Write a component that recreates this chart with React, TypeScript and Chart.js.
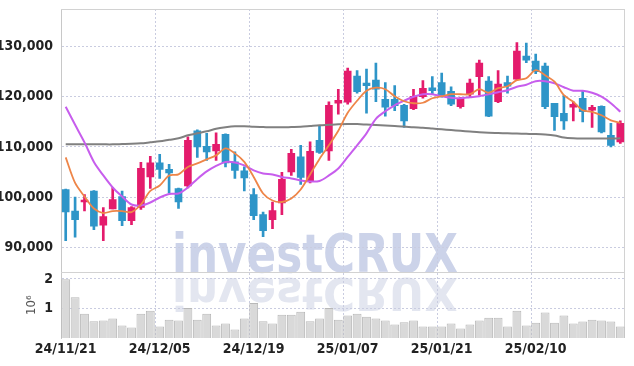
import { useEffect, useRef } from 'react';
import { Chart, registerables } from 'chart.js';

Chart.register(...registerables);

const dates = [
  '24/11/21', '24/11/22', '24/11/25', '24/11/26', '24/11/27', '24/11/28', '24/11/29', '24/12/02', '24/12/03', '24/12/04',
  '24/12/05', '24/12/06', '24/12/09', '24/12/10', '24/12/11', '24/12/12', '24/12/13', '24/12/16', '24/12/17', '24/12/18',
  '24/12/19', '24/12/20', '24/12/23', '24/12/24', '24/12/26', '24/12/27', '24/12/30', '25/01/02', '25/01/03', '25/01/06',
  '25/01/07', '25/01/08', '25/01/09', '25/01/10', '25/01/13', '25/01/14', '25/01/15', '25/01/16', '25/01/17', '25/01/20',
  '25/01/21', '25/01/22', '25/01/23', '25/01/24', '25/01/31', '25/02/03', '25/02/04', '25/02/05', '25/02/06', '25/02/07',
  '25/02/10', '25/02/11', '25/02/12', '25/02/13', '25/02/14', '25/02/17', '25/02/18', '25/02/19', '25/02/20', '25/02/21',
];

const openP = [
  101500, 97200, 99000, 101200, 94400, 97600, 100100, 95300, 97900, 104000,
  106800, 105500, 101700, 102200, 113200, 110100, 109200, 112500, 107000, 105200,
  100500, 96500, 95500, 98800, 105000, 108000, 103200, 111300, 109200, 118700,
  118900, 124100, 122700, 123300, 119500, 119500, 118300, 117600, 120000, 121800,
  122800, 121100, 118000, 120500, 124000, 123100, 119000, 122800, 123500, 128100,
  127100, 126100, 118700, 116700, 117900, 119700, 117300, 118100, 112300, 111000,
];
const highP = [
  101600, 100000, 100500, 101300, 97900, 101900, 101200, 98100, 106900, 108100,
  108500, 106500, 101800, 112000, 113400, 112700, 112800, 112600, 109000, 106000,
  101700, 97000, 99000, 104900, 109500, 110300, 111000, 114300, 119000, 121500,
  125700, 125200, 125500, 126700, 122800, 122200, 118500, 121500, 123200, 124000,
  124700, 122000, 119900, 123500, 127300, 124000, 125200, 124100, 130800, 130700,
  128500, 126700, 118700, 120300, 119000, 121200, 118300, 118200, 114700, 115200,
];
const lowP = [
  91300, 92000, 97200, 93500, 91300, 97600, 94300, 94500, 97500, 101700,
  103700, 100800, 97700, 101800, 107900, 107300, 107300, 106000, 103700, 101200,
  95500, 92100, 93700, 96500, 104300, 102500, 102800, 108700, 107300, 116500,
  118500, 120700, 116700, 119000, 116100, 117200, 113900, 117400, 119700, 120400,
  119900, 118200, 117700, 120000, 120300, 116000, 118800, 120700, 123300, 126800,
  124600, 117600, 113300, 113500, 115200, 115000, 113900, 112800, 110000, 110700,
];
const closeP = [
  97000, 95500, 99300, 94200, 96100, 99500, 95300, 97900, 105700, 106800,
  105500, 104800, 99000, 111300, 110000, 109000, 110500, 106800, 105300, 103800,
  96300, 93300, 97300, 103500, 108700, 103900, 109100, 108900, 118300, 119300,
  125100, 121000, 122200, 121500, 117900, 118200, 115200, 120100, 121700, 121200,
  120100, 118500, 119700, 122700, 126700, 116100, 122500, 122100, 129100, 127300,
  125000, 118000, 116000, 115200, 118500, 117000, 117900, 113000, 110300, 114700,
];

const ma5 = [
  107900, 102800, 100100, 97700, 96800, 97200, 97200, 97000, 98500, 101200,
  102300, 104300, 104500, 106000, 106700, 107500, 108300, 109700, 108700, 107000,
  104000, 100700, 99300, 99000, 99700, 101500, 104500, 107600, 110300, 113200,
  116800, 119200, 121200, 121800, 121500, 120100, 119100, 118700, 118800, 119700,
  120100, 120500, 120500, 120500, 121500, 120800, 121700, 122100, 123300, 123700,
  125300, 124300, 123000, 120300, 119000, 117300, 117000, 116300, 115300, 114800,
];
const ma20 = [
  118000, 114400, 110900, 107000, 104300, 101900, 100100, 98500, 98300, 98900,
  99900, 100600, 100700, 101900, 103600, 105100, 106200, 107000, 106900, 106300,
  105300, 104700, 104500, 104000, 103700, 103300, 103100, 103200, 104300, 105700,
  108000, 110300, 112700, 115600, 117100, 118300, 119200, 120000, 120500, 120500,
  120100, 119800, 119700, 119900, 120100, 120500, 120900, 121300, 122000, 122400,
  123100, 123100, 122700, 121900, 121200, 121200, 120800, 120000, 118700, 117000,
];
const ma60 = [
  110500, 110500, 110500, 110500, 110500, 110500, 110550, 110600, 110700, 110900,
  111100, 111400, 111700, 112300, 112700, 113100, 113600, 113900, 114100, 114100,
  114000, 113950, 113900, 113900, 113950, 114000, 114150, 114300, 114400, 114500,
  114550, 114550, 114450, 114350, 114250, 114150, 114050, 113900, 113800, 113650,
  113500, 113350, 113200, 113050, 112900, 112800, 112750, 112700, 112650, 112600,
  112550, 112450, 112250, 111850, 111700, 111650, 111650, 111650, 111650, 111700,
];

const volume = [
  1990000, 1380000, 820000, 570000, 590000, 660000, 420000, 360000, 820000, 920000,
  390000, 620000, 590000, 1020000, 620000, 820000, 420000, 490000, 290000, 660000,
  1190000, 570000, 490000, 790000, 790000, 890000, 570000, 660000, 1020000, 620000,
  760000, 820000, 720000, 660000, 590000, 460000, 530000, 590000, 390000, 390000,
  390000, 490000, 320000, 460000, 590000, 690000, 690000, 390000, 920000, 420000,
  520000, 860000, 520000, 760000, 490000, 560000, 620000, 590000, 560000, 390000,
];

const priceTicks = [90000, 100000, 110000, 120000, 130000];
const volumeTicks = [1000000, 2000000];
const volumeUnitLabel = '10⁶';
const watermarkText = 'investCRUX';

const UP = '#e41b6c';
const DOWN = '#2e95c8';
const FONT = '"Liberation Sans Narrow", "DejaVu Sans Condensed", sans-serif';
const GRID = '#c9cce0';

const watermarkPlugin = {
  id: 'watermark',
  beforeDraw(chart: any) {
    const ctx = chart.ctx;
    const y = chart.scales.y;
    ctx.save();
    ctx.font = `bold 54px ${FONT}`;
    ctx.textBaseline = 'alphabetic';
    ctx.textAlign = 'left';
    const w = ctx.measureText(watermarkText).width;
    const sx = 286 / w;
    const left = 172;
    const base = y.bottom;
    ctx.save();
    ctx.translate(left, base);
    ctx.scale(sx, 1);
    ctx.fillStyle = '#ccd3e9';
    ctx.fillText(watermarkText, 0, 0);
    ctx.restore();
    ctx.save();
    ctx.translate(left, base + 6);
    ctx.scale(sx, -0.82);
    ctx.fillStyle = '#e3e6f0';
    ctx.fillText(watermarkText, 0, 0);
    ctx.restore();
    ctx.restore();
  },
};

const framePlugin = {
  id: 'frame',
  beforeDatasetsDraw(chart: any) {
    const { ctx, chartArea } = chart;
    const y = chart.scales.y;
    ctx.save();
    ctx.strokeStyle = '#d2d2d2';
    ctx.lineWidth = 1;
    ctx.beginPath();
    ctx.moveTo(chartArea.left, chartArea.top + 0.5);
    ctx.lineTo(chartArea.right, chartArea.top + 0.5);
    ctx.moveTo(chartArea.right - 0.5, chartArea.top);
    ctx.lineTo(chartArea.right - 0.5, chartArea.bottom);
    ctx.moveTo(chartArea.left, Math.round(y.bottom) + 0.5);
    ctx.lineTo(chartArea.right, Math.round(y.bottom) + 0.5);
    ctx.stroke();
    ctx.restore();
  },
};

const noPad = (s: any) => {
  s.paddingTop = 0;
  s.paddingBottom = 0;
  s.paddingLeft = 0;
  s.paddingRight = 0;
};

export default function App() {
  const ref = useRef<HTMLCanvasElement>(null);

  useEffect(() => {
    if (!ref.current) return;
    const candleColors = openP.map((o, i) => (closeP[i] >= o ? UP : DOWN));
    const chart = new Chart(ref.current, {
      type: 'bar',
      data: {
        labels: dates,
        datasets: [
          {
            type: 'line',
            label: 'MA5',
            data: ma5,
            borderColor: '#ee8548',
            borderWidth: 1.8,
            pointRadius: 0,
            tension: 0.3,
            yAxisID: 'y',
            order: 0,
          } as any,
          {
            type: 'line',
            label: 'MA20',
            data: ma20,
            borderColor: '#c75ded',
            borderWidth: 2,
            pointRadius: 0,
            tension: 0.3,
            yAxisID: 'y',
            order: 0,
          } as any,
          {
            type: 'line',
            label: 'MA60',
            data: ma60,
            borderColor: '#808080',
            borderWidth: 2,
            pointRadius: 0,
            tension: 0.3,
            yAxisID: 'y',
            order: 0,
          } as any,
          {
            label: 'body',
            data: openP.map((o, i) => [o, closeP[i]]),
            backgroundColor: candleColors,
            barThickness: 7,
            minBarLength: 2,
            grouped: false,
            yAxisID: 'y',
            order: 1,
          } as any,
          {
            label: 'wick',
            data: lowP.map((l, i) => [l, highP[i]]),
            backgroundColor: candleColors,
            barThickness: 2,
            grouped: false,
            yAxisID: 'y',
            order: 2,
          } as any,
          {
            label: 'volume',
            data: volume,
            backgroundColor: '#d9d9d9',
            borderColor: '#b8b8b8',
            borderWidth: 1,
            barPercentage: 1,
            categoryPercentage: 0.94,
            grouped: false,
            yAxisID: 'yVol',
            order: 5,
          } as any,
        ],
      },
      options: {
        animation: false,
        responsive: true,
        maintainAspectRatio: false,
        layout: { padding: { left: 0, top: 9, right: 9, bottom: 0 } },
        plugins: { legend: { display: false }, tooltip: { enabled: false } },
        scales: {
          x: {
            type: 'category',
            offset: true,
            grid: {
              color: (c: any) => (c.index % 10 === 0 ? GRID : 'transparent'),
              drawTicks: false,
            },
            border: { display: false, dash: [2, 2] },
            ticks: {
              autoSkip: false,
              maxRotation: 0,
              padding: 3,
              color: '#222',
              font: { family: FONT, size: 14, weight: 'bold' },
              callback: function (this: any, v: any, i: number) {
                return i % 10 === 0 ? this.getLabelForValue(v) : '';
              },
            },
            afterFit: (s: any) => {
              s.height = 28;
              noPad(s);
            },
          },
          yVol: {
            type: 'linear',
            position: 'left',
            stack: 'panels',
            stackWeight: 1,
            min: 0,
            max: 2230000,
            afterBuildTicks: (s: any) => {
              s.ticks = volumeTicks.map((v) => ({ value: v }));
            },
            grid: { color: GRID, drawTicks: false },
            border: { color: '#c8c8c8', dash: [2, 2] },
            ticks: {
              padding: 8,
              color: '#222',
              font: { family: FONT, size: 14, weight: 'bold' },
              callback: (v: any) => String(Number(v) / 1000000),
            },
            title: {
              display: true,
              text: volumeUnitLabel,
              color: '#555',
              font: { family: FONT, size: 13 },
              padding: { top: 24, bottom: 0 },
            },
            afterFit: (s: any) => {
              s.width = 61;
              noPad(s);
            },
          },
          y: {
            type: 'linear',
            position: 'left',
            stack: 'panels',
            stackWeight: 4,
            min: 85000,
            max: 137500,
            afterBuildTicks: (s: any) => {
              s.ticks = priceTicks.map((v) => ({ value: v }));
            },
            grid: { color: GRID, drawTicks: false },
            border: { color: '#c8c8c8', dash: [2, 2] },
            ticks: {
              padding: 8,
              color: '#222',
              font: { family: FONT, size: 14, weight: 'bold' },
              callback: (v: any) => Number(v).toLocaleString('en-US'),
            },
            afterFit: (s: any) => {
              s.width = 61;
              noPad(s);
            },
          },
        } as any,
      },
      plugins: [watermarkPlugin, framePlugin],
    });
    return () => chart.destroy();
  }, []);

  return (
    <div style={{ position: 'fixed', left: 0, top: 0, width: 634, height: 366, background: '#fff' }}>
      <canvas ref={ref} />
    </div>
  );
}
